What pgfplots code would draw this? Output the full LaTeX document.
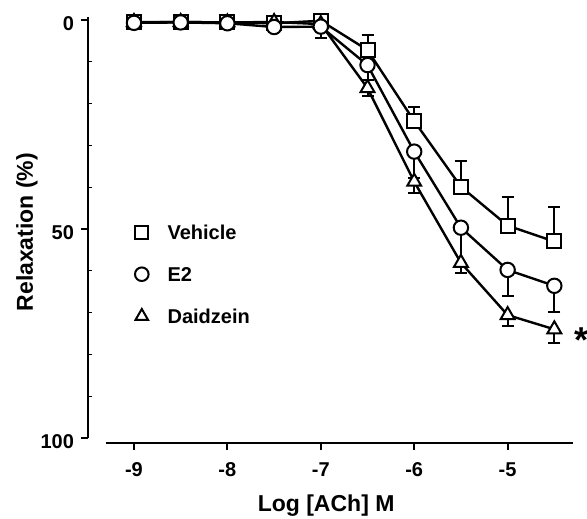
\documentclass[border=0pt]{standalone}
\usepackage{fontspec}
\setmainfont{Liberation Sans}
\usepackage{pgfplots}
\pgfplotsset{compat=1.18}
\begin{document}
\begin{tikzpicture}[x=1pt,y=1pt]
\useasboundingbox (-44,-37.5) rectangle (249.5,221.5);
\begin{axis}[
    at={(0,0)}, anchor=south west,
    scale only axis, width=242.5pt, height=213pt,
    xmin=-9.492, xmax=-4.3, ymin=-0.7, ymax=101.2,
    y dir=reverse,
    axis lines*=left,
    axis line style={draw=none},
    clip=false,
    tick align=outside,
    xtick={-9,-8,-7,-6,-5}, xticklabels={-9,-8,-7,-6,-5},
    ytick={0,50,100}, yticklabels={0,50,100},
    minor y tick num=4,
    major tick length=3.5pt, minor tick length=2pt,
    tick style={black, line width=1pt},
    minor y tick style={line width=0.5pt, xshift=2pt},
    ticklabel style={font=\bfseries\fontsize{10}{12}\selectfont},
    xticklabel style={yshift=-2.8pt},
    yticklabel style={yshift=-1.7pt},
    xlabel={Log [ACh] M},
    ylabel={Relaxation (\%)},
    label style={font=\bfseries\fontsize{11.5}{13}\selectfont},
    xlabel style={at={(axis description cs:0.491,-0.1596)}, anchor=base},
    ylabel style={at={(axis description cs:-0.1134,0.495)}, anchor=base, rotate=0},
    legend style={at={(0.0969,0.5131)}, anchor=north west, draw=none, fill=none,
                  inner sep=0pt, outer sep=0pt, row sep=12pt, column sep=9.5pt,
                  font=\bfseries\fontsize{10}{12}\selectfont,
                  nodes={inner sep=0pt, text height=7.5pt, text depth=1.5pt}},
    legend cell align=left,
    legend image code/.code={\draw[#1] plot coordinates {(0pt,0.6pt)};},
    every error bar/.append style={line width=1pt},
]
  % axis lines (offset, as in the original)
  \draw[line width=1pt] (axis cs:-9.492,-0.7) -- (axis cs:-9.492,100);
  \draw[line width=1pt] (axis cs:-9.3,101.2) -- (axis cs:-4.3,101.2);

  % Vehicle (error bars drawn upward)
  \addplot[forget plot, black, line width=1.2pt, mark=square*, mark size=3.5pt,
           mark options={fill=white, line width=1pt},
           error bars/.cd, y dir=minus, y explicit,
           error bar style={line width=1pt},
           error mark options={rotate=90, line width=1pt, mark size=3pt, black}]
    coordinates {(-9,0.6) +- (0,0) (-8.5,0.5) +- (0,0) (-8,0.6) +- (0,0)
                 (-7.5,0.8) +- (0,0) (-7,0.2) +- (0,0) (-6.5,7.2) +- (0,3.6)
                 (-6,24.2) +- (0,3.3) (-5.5,39.9) +- (0,6.2)
                 (-5,49.2) +- (0,6.9) (-4.5,53.0) +- (0,8.3)};

  % Daidzein
  \addplot[forget plot, black, line width=1.2pt, mark=triangle*, mark size=4pt,
           mark options={fill=white, line width=1pt},
           error bars/.cd, y dir=plus, y explicit,
           error bar style={line width=1pt},
           error mark options={rotate=90, line width=1pt, mark size=3pt, black}]
    coordinates {(-9,0.5) +- (0,0) (-8.5,0.5) +- (0,0) (-8,0.6) +- (0,0)
                 (-7.5,0.5) +- (0,0) (-7,1.0) +- (0,0) (-6.5,16.3) +- (0,1.8)
                 (-6,38.7) +- (0,2.6) (-5.5,58.1) +- (0,2.4)
                 (-5,70.6) +- (0,2.6) (-4.5,74.0) +- (0,3.3)};

  % E2
  \addplot[forget plot, black, line width=1.2pt, mark=*, mark size=3.6pt,
           mark options={fill=white, line width=1pt},
           error bars/.cd, y dir=plus, y explicit,
           error bar style={line width=1pt},
           error mark options={rotate=90, line width=1pt, mark size=3pt, black}]
    coordinates {(-9,0.7) +- (0,0) (-8.5,0.6) +- (0,0) (-8,0.8) +- (0,0)
                 (-7.5,1.7) +- (0,0) (-7,1.6) +- (0,2.7) (-6.5,10.8) +- (0,3.6)
                 (-6,31.5) +- (0,6.4) (-5.5,49.7) +- (0,9.0)
                 (-5,59.8) +- (0,6.2) (-4.5,63.6) +- (0,6.3)};

  \addlegendimage{only marks, black, mark=square*, mark size=3.3pt, mark options={fill=white, line width=1pt}}
  \addlegendentry{Vehicle}
  \addlegendimage{only marks, black, mark=*, mark size=3.4pt, mark options={fill=white, line width=1pt}}
  \addlegendentry{E2}
  \addlegendimage{only marks, black, mark=triangle*, mark size=3.6pt, mark options={fill=white, line width=1pt}}
  \addlegendentry{Daidzein}

  \node[font=\bfseries\fontsize{18}{18}\selectfont, inner sep=0pt] at (axis cs:-4.21,76.5) {*};
\end{axis}
\end{tikzpicture}
\end{document}
